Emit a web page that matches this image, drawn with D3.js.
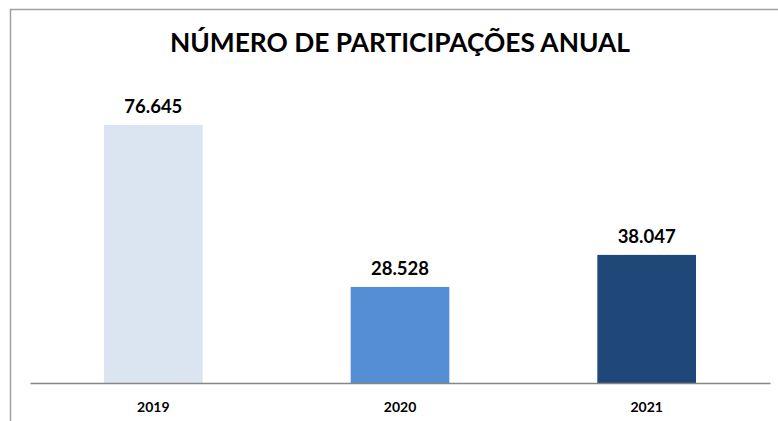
<!DOCTYPE html>
<html>
<head>
<meta charset="utf-8">
<script src="https://cdn.jsdelivr.net/npm/d3@7"></script>
<style>
html,body{margin:0;padding:0;background:#fff;}
svg{display:block;}
</style>
</head>
<body>
<svg id="chart" width="778" height="421"></svg>
<script>
const title = "NÚMERO DE PARTICIPAÇÕES ANUAL";
const categories = ["2019", "2020", "2021"];
const values = [76645, 28528, 38047];
const valueLabels = ["76.645", "28.528", "38.047"];
const colors = ["#dbe5f1", "#558ed5", "#1f4878"];

const svg = d3.select("#chart");
const W = 778, H = 421;
const font = "Lato, 'Open Sans', sans-serif";

// outer border (top and left visible)
svg.append("path")
  .attr("d", `M10.5,${H} L10.5,9.5 L${W},9.5`)
  .attr("fill", "none").attr("stroke", "#a0a0a0").attr("stroke-width", 1.5);

const x = d3.scaleBand().domain(categories).range([30, 770])
  .paddingInner(0.6).paddingOuter(0.3);
const y = d3.scaleLinear().domain([0, 90000]).range([383, 80]);

svg.append("text")
  .attr("x", 400).attr("y", 52)
  .attr("text-anchor", "middle")
  .attr("font-family", font).attr("font-weight", "bold")
  .attr("font-size", 26.5).attr("fill", "#000")
  .attr("textLength", 460).attr("lengthAdjust", "spacingAndGlyphs")
  .text(title);

svg.selectAll("rect.bar").data(values).enter().append("rect")
  .attr("class", "bar")
  .attr("x", (d, i) => x(categories[i]))
  .attr("width", x.bandwidth())
  .attr("y", d => y(d))
  .attr("height", d => y(0) - y(d))
  .attr("fill", (d, i) => colors[i]);

svg.selectAll("text.val").data(values).enter().append("text")
  .attr("class", "val")
  .attr("x", (d, i) => x(categories[i]) + x.bandwidth() / 2)
  .attr("y", d => y(d) - 12)
  .attr("text-anchor", "middle")
  .attr("font-family", font).attr("font-weight", "bold")
  .attr("font-size", 18.5).attr("fill", "#000")
  .text((d, i) => valueLabels[i]);

const axis = d3.axisBottom(x).tickSize(0).tickPadding(19);
const g = svg.append("g").attr("transform", "translate(0,383)").call(axis);
g.select(".domain").attr("stroke", "#868686").attr("stroke-width", 1.5);
g.selectAll("text")
  .attr("font-family", font).attr("font-weight", "bold")
  .attr("font-size", 14).attr("fill", "#000");
</script>
</body>
</html>
